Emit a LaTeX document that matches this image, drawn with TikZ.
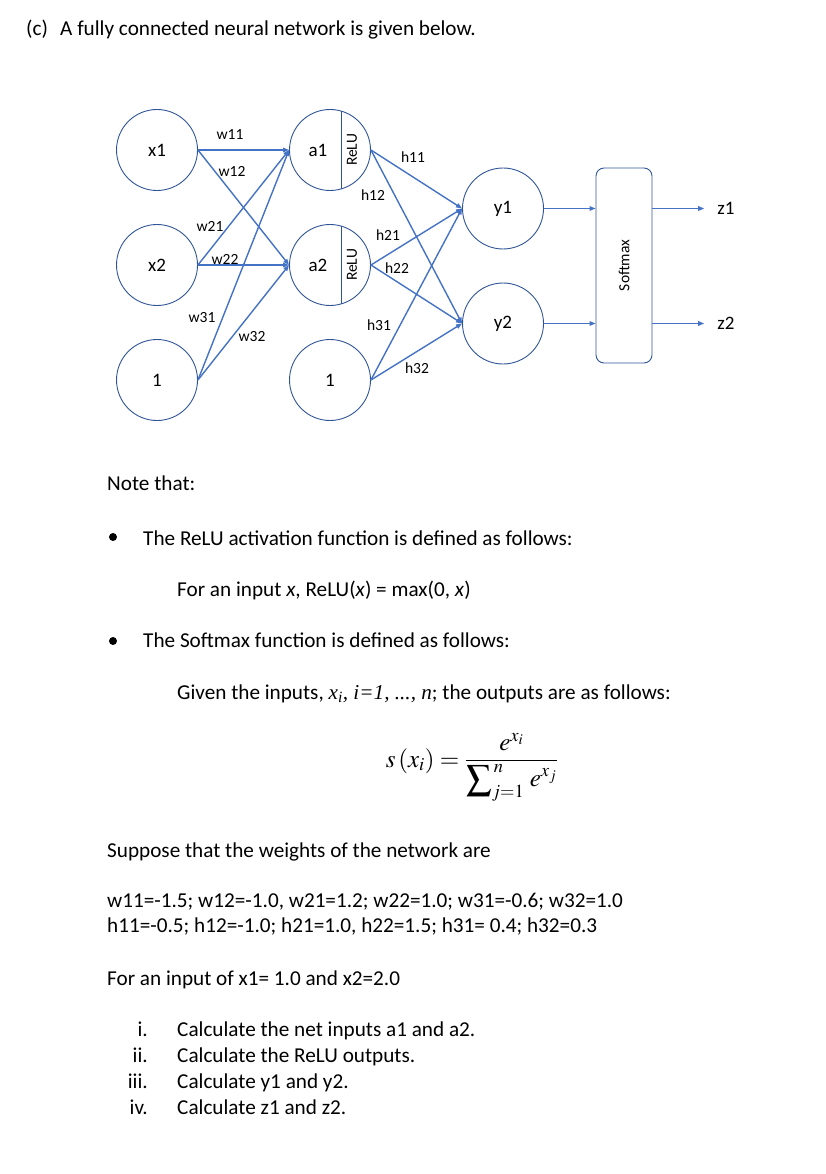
\documentclass[tikz,border=0pt]{standalone}
\usepackage{amsmath}
\usepackage{mathptmx}
\usepackage[no-math]{fontspec}
\setmainfont{Carlito}
\newfontfamily\timesfont{Liberation Serif}
\usepackage{tikz}
\usetikzlibrary{positioning, arrows.meta, calc}
\definecolor{nnblue}{HTML}{4472C4}
\definecolor{nnline}{HTML}{2F5597}

\begin{document}
\begin{tikzpicture}[x=1pt, y=-1pt, >={Triangle[length=6pt, width=4.5pt]},
    neuron/.style={circle, draw=nnline, line width=0.9pt, minimum size=81pt, inner sep=0pt, font=\fontsize{19}{22}\selectfont},
    wlabel/.style={inner sep=0pt, font=\fontsize{15.5}{18}\selectfont},
    link/.style={->, draw=nnblue, line width=1.4pt},
    body/.style={anchor=base west, inner sep=0pt, font=\fontsize{21.2}{25}\selectfont}]
                \useasboundingbox (0,0) rectangle (826,1174);

                % Title
                \node[body] (part) at (26,36) {(c)};
                \node[body] (title) at (60,36) {A fully connected neural network is given below.};

                % Input layer
                \node[neuron] (x1) at (157,150) {x1};
                \node[neuron] (x2) at (157,265) {x2};
                \node[neuron] (b1) at (157,380) {1};

                % Hidden layer
                \node[neuron] (a1) at (330,150) {};
                \node[neuron] (a2) at (330,265) {};
                \node[neuron] (b2) at (330,380) {1};
                \node[font=\fontsize{19}{22}\selectfont, inner sep=0pt] (a1txt) at (318,150) {a1};
                \node[font=\fontsize{19}{22}\selectfont, inner sep=0pt] (a2txt) at (318,265) {a2};
                \draw[nnline, line width=0.9pt] ($(a1.center)+(11,-39)$) -- ($(a1.center)+(11,39)$);
                \draw[nnline, line width=0.9pt] ($(a2.center)+(11,-39)$) -- ($(a2.center)+(11,39)$);
                \node[wlabel, rotate=90] (relu1) at ($(a1.center)+(22,0)$) {ReLU};
                \node[wlabel, rotate=90] (relu2) at ($(a2.center)+(22,0)$) {ReLU};

                % Output layer
                \node[neuron] (y1) at (503,208.5) {y1};
                \node[neuron] (y2) at (503,323.5) {y2};
                \node[draw=nnline, line width=0.9pt, rounded corners=8pt, minimum width=56pt, minimum height=195pt] (soft) at (624,265.5) {};
                \node[wlabel, rotate=90] (softtxt) at (soft.center) {Softmax};
                \node[font=\fontsize{19}{22}\selectfont, inner sep=0pt] (z1) at (726,208.5) {z1};
                \node[font=\fontsize{19}{22}\selectfont, inner sep=0pt] (z2) at (726,323.5) {z2};

                % Input -> hidden
                \draw[link] (x1.east) -- (a1.west);
                \draw[link] (x1.east) -- (a2.west);
                \draw[link] (x2.east) -- (a1.west);
                \draw[link] (x2.east) -- (a2.west);
                \draw[link] (b1.east) -- (a1.west);
                \draw[link] (b1.east) -- (a2.west);

                % Hidden -> output
                \draw[link] (a1.east) -- (y1.west);
                \draw[link] (a1.east) -- (y2.west);
                \draw[link] (a2.east) -- (y1.west);
                \draw[link] (a2.east) -- (y2.west);
                \draw[link] (b2.east) -- (y1.west);
                \draw[link] (b2.east) -- (y2.west);

                % Softmax
                \draw[link] (y1.east) -- (y1.east -| soft.west);
                \draw[link] (y2.east) -- (y2.east -| soft.west);
                \draw[link] (y1.east -| soft.east) -- ([xshift=-13pt]z1.west);
                \draw[link] (y2.east -| soft.east) -- ([xshift=-13pt]z2.west);

                % Weights
                \node[wlabel] (w11) at (230,135) {w11};
                \node[wlabel] (w12) at (232,171) {w12};
                \node[wlabel] (w21) at (210,226) {w21};
                \node[wlabel] (w22) at (225,259) {w22};
                \node[wlabel] (w31) at (202,318) {w31};
                \node[wlabel] (w32) at (252,337) {w32};
                \node[wlabel] (h11) at (413,157) {h11};
                \node[wlabel] (h12) at (373,195) {h12};
                \node[wlabel] (h21) at (388,235) {h21};
                \node[wlabel] (h22) at (397,268) {h22};
                \node[wlabel] (h31) at (379,325) {h31};
                \node[wlabel] (h32) at (417,368) {h32};

                % Notes
                \node[body] (note) at (107,490) {Note that:};
                \fill (113,537) circle (4);
                \node[body] (relutxt) at (143,545) {The ReLU activation function is defined as follows:};
                \node[body] (reludef) at (177,596) {For an input \textit{x}, ReLU(\textit{x}) = max(0, \textit{x})};
                \fill (113,641) circle (4);
                \node[body] (softtxt2) at (143,647) {The Softmax function is defined as follows:};
                \node[body] (softdef) at (177,699) {Given the inputs, {\timesfont\itshape x\textsubscript{i}, i=1, ..., n}; the outputs are as follows:};
                \node[inner sep=0pt, font=\fontsize{25}{30}\selectfont] (softeq) at (472,767) {$s\left(x_i\right)=\dfrac{e^{x_i}}{\displaystyle\sum\nolimits_{j=1}^{\,n}\,e^{x_j}}$};

                % Weights and questions
                \node[body] (suppose) at (107,857) {Suppose that the weights of the network are};
                \node[body] (wvals) at (107,907) {w11=-1.5; w12=-1.0, w21=1.2; w22=1.0; w31=-0.6; w32=1.0};
                \node[body] (hvals) at (107,932) {h11=-0.5; h12=-1.0; h21=1.0, h22=1.5; h31= 0.4; h32=0.3};
                \node[body] (input) at (107,985) {For an input of x1= 1.0 and x2=2.0};
                \node[body, anchor=base east] (q1n) at (148,1036) {i.};
                \node[body, anchor=base east] (q2n) at (148,1062) {ii.};
                \node[body, anchor=base east] (q3n) at (148,1088) {iii.};
                \node[body, anchor=base east] (q4n) at (148,1114) {iv.};
                \node[body] (q1) at (177,1036) {Calculate the net inputs a1 and a2.};
                \node[body] (q2) at (177,1062) {Calculate the ReLU outputs.};
                \node[body] (q3) at (177,1088) {Calculate y1 and y2.};
                \node[body] (q4) at (177,1114) {Calculate z1 and z2.};
\end{tikzpicture}
\end{document}
